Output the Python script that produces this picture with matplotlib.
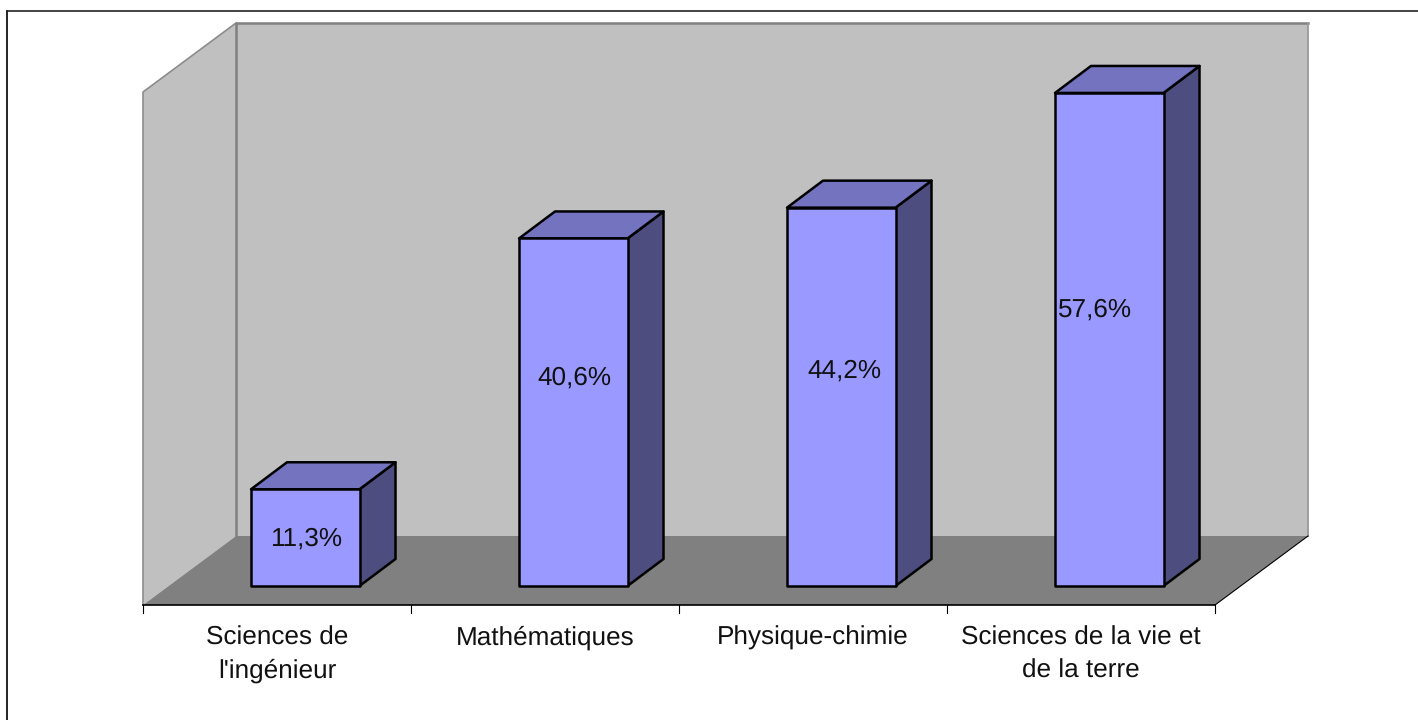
import matplotlib
matplotlib.use('Agg')

import matplotlib.pyplot as plt
from matplotlib.patches import Polygon

plt.rcParams['text.hinting'] = 'none'

W, H = 1418, 720

# data
categories = ["Sciences de\nl'ingénieur", "Mathématiques", "Physique-chimie", "Sciences de la vie et\nde la terre"]
values = [11.3, 40.6, 44.2, 57.6]
value_labels = ["11,3%", "40,6%", "44,2%", "57,6%"]

# where the labels sit on the bars (px from top, px offset from bar centre)
label_y_px = [539, 378, 371, 310]
label_dx_px = [0.5, 1.5, 3.5, -14.5]

# scales: one category = 268 px, one percent = 8.56 px
px_x = 268.0
px_y = 8.56
x0_px = 143.0
y0_px = 586.0

fig = plt.figure(figsize=(W / 100, H / 100), dpi=100)
ax = fig.add_axes([0, 0, 1, 1])
ax.set_xlim(-x0_px / px_x, (W - x0_px) / px_x)
ax.set_ylim(-(H - y0_px) / px_y, y0_px / px_y)
ax.axis('off')

dx = 93 / px_x      # wall depth
dy = 69 / px_y
floor_y = -19 / px_y
wall_top = 513 / px_y + floor_y
n = len(categories)

# walls and floor
ax.add_patch(Polygon([(0, floor_y), (dx, floor_y + dy), (dx, wall_top + dy), (0, wall_top)],
                     facecolor='#C0C0C0', edgecolor='none', zorder=1))
ax.add_patch(Polygon([(dx, floor_y + dy), (n + dx, floor_y + dy), (n + dx, wall_top + dy), (dx, wall_top + dy)],
                     facecolor='#C0C0C0', edgecolor='none', zorder=1))
ax.plot([0, 0, dx], [floor_y, wall_top, wall_top + dy], color='#8C8C8C', lw=1.2, zorder=1.5)
ax.plot([dx, dx, n + dx], [floor_y + dy, wall_top + dy, wall_top + dy], color='#808080', lw=1.8, zorder=1.5)
ax.plot([n + dx, n + dx], [wall_top + dy, floor_y + dy], color='#999999', lw=1.3, zorder=1.5)
ax.add_patch(Polygon([(0, floor_y), (n, floor_y), (n + dx, floor_y + dy), (dx, floor_y + dy)],
                     facecolor='#808080', edgecolor='none', zorder=2))
ax.plot([n, n + dx], [floor_y, floor_y + dy], color='black', lw=0.8, zorder=3)

# axis line and ticks
ax.plot([0, n], [floor_y, floor_y], color='black', lw=1.2, zorder=3)
for i in range(n + 1):
    ax.plot([i, i], [floor_y, floor_y - 8 / px_y], color='black', lw=0.8, zorder=3)
# one text per line so all the baselines agree
for i, c in enumerate(categories):
    for k, line in enumerate(c.split('\n')):
        ax.text(i + 0.5, floor_y - (39.5 + 33.5 * k) / px_y, line, ha='center', va='baseline', fontsize=18.8,
                family='Liberation Sans', color='#111111', zorder=5)

# bars
bx = 0.403
bw = 108.5 / px_x
bdx = 36 / px_x
bdy = 27 / px_y
for i, v in enumerate(values):
    l = i + bx
    r = l + bw
    ax.add_patch(Polygon([(r, 0), (r + bdx, bdy), (r + bdx, v + bdy), (r, v)],
                         facecolor='#4D4D80', edgecolor='black', lw=1.8, zorder=4, joinstyle='round'))
    ax.add_patch(Polygon([(l, v), (r, v), (r + bdx, v + bdy), (l + bdx, v + bdy)],
                         facecolor='#7373BF', edgecolor='black', lw=1.8, zorder=4, joinstyle='round'))
    ax.add_patch(Polygon([(l, 0), (r, 0), (r, v), (l, v)],
                         facecolor='#9999FF', edgecolor='black', lw=1.8, zorder=4, joinstyle='round'))
    ax.text(l + bw / 2 + label_dx_px[i] / px_x, (y0_px - label_y_px[i]) / px_y, value_labels[i],
            ha='center', va='center', fontsize=18.8, family='Liberation Sans', color='#111111', zorder=5)

# chart frame, only top and left show
fig.add_artist(plt.Line2D([7.5 / W, 7.5 / W], [0, 1 - 11 / H], color='black', lw=1.2))
fig.add_artist(plt.Line2D([7.5 / W, 1], [1 - 11 / H, 1 - 11 / H], color='#222222', lw=1.2))

plt.savefig('out.png', dpi=100)
